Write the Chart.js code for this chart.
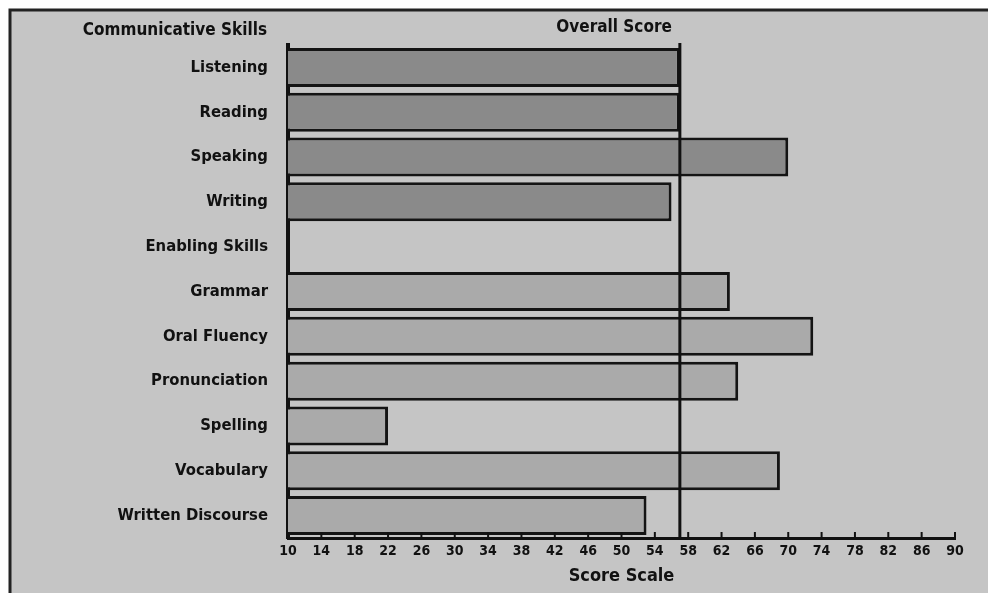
<!DOCTYPE html>
<html>
<head>
<meta charset="utf-8">
<script src="https://cdn.jsdelivr.net/npm/chart.js@4"></script>
<style>
  html, body { margin: 0; padding: 0; background: #ffffff; }
  #wrap { width: 988px; height: 593px; position: relative; }
</style>
</head>
<body>
<div id="wrap"><canvas id="scoreChart" width="988" height="593"></canvas></div>
<script>
// skills, in the order of the report
const skills = ['Listening', 'Reading', 'Speaking', 'Writing', 'Enabling Skills',
                'Grammar', 'Oral Fluency', 'Pronunciation', 'Spelling', 'Vocabulary', 'Written Discourse'];
const communicativeScores = [57, 57, 70, 56, null, null, null, null, null, null, null];
const enablingScores      = [null, null, null, null, null, 63, 73, 64, 22, 69, 53];
const overallScore = 57;
const scaleTicks = [10, 14, 18, 22, 26, 30, 34, 38, 42, 46, 50, 54, 58, 62, 66, 70, 74, 78, 82, 86, 90];

const FONT = '"DejaVu Sans Condensed", "DejaVu Sans", sans-serif';

// frame, header texts, overall line and the little axis ticks
const reportDecor = {
  id: 'reportDecor',
  beforeDraw(chart) {
    const c = chart.ctx;
    c.save();
    c.fillStyle = '#c5c5c5';
    c.fillRect(10, 10, chart.width - 10, chart.height - 10);
    c.strokeStyle = '#222';
    c.lineWidth = 3;
    c.beginPath();
    c.moveTo(10, chart.height);
    c.lineTo(10, 10);
    c.lineTo(chart.width, 10);
    c.stroke();
    c.restore();
  },
  afterDatasetsDraw(chart) {
    const c = chart.ctx;
    const x = chart.scales.x;
    const area = chart.chartArea;
    const lx = x.getPixelForValue(overallScore);
    c.save();
    c.strokeStyle = '#111';
    c.lineWidth = 3;
    c.beginPath();
    c.moveTo(lx, area.top - 2);
    c.lineTo(lx, area.bottom);
    c.stroke();
    // tick marks standing on the axis
    c.lineWidth = 2;
    scaleTicks.forEach(v => {
      const tx = x.getPixelForValue(v);
      c.beginPath();
      c.moveTo(tx, area.bottom);
      c.lineTo(tx, area.bottom - 6);
      c.stroke();
    });
    c.fillStyle = '#111';
    c.font = 'bold 17px ' + FONT;
    c.textBaseline = 'middle';
    c.textAlign = 'right';
    c.fillText('Communicative Skills', 267, 31);
    c.fillText('Overall Score', lx - 8, 28);
    c.restore();
  }
};

new Chart(document.getElementById('scoreChart'), {
  type: 'bar',
  data: {
    labels: skills,
    datasets: [{
      label: 'Communicative Skills',
      data: communicativeScores,
      backgroundColor: '#8a8a8a',
      borderColor: '#141414',
      borderWidth: 3,
      borderSkipped: false
    }, {
      label: 'Enabling Skills',
      data: enablingScores,
      backgroundColor: '#aaaaaa',
      borderColor: '#141414',
      borderWidth: 3,
      borderSkipped: false
    }]
  },
  options: {
    indexAxis: 'y',
    responsive: false,
    animation: false,
    layout: { padding: { top: 45, right: 33, left: 0, bottom: 6 } },
    datasets: { bar: { grouped: false, categoryPercentage: 1, barPercentage: 0.87 } },
    plugins: { legend: { display: false }, tooltip: { enabled: false } },
    scales: {
      x: {
        min: 10,
        max: 90,
        afterBuildTicks(scale) { scale.ticks = scaleTicks.map(v => ({ value: v })); },
        afterFit(scale) { scale.height = 49; },
        grid: { display: false, drawTicks: false },
        border: { display: true, color: '#111', width: 3 },
        ticks: { color: '#111', padding: 5, maxRotation: 0, autoSkip: false,
                 font: { family: FONT, size: 14, weight: 'bold' } },
        title: { display: true, text: 'Score Scale', color: '#111', padding: { top: 0, bottom: 0 },
                 font: { family: FONT, size: 18, weight: 'bold' } }
      },
      y: {
        afterFit(scale) { scale.width = 288; },
        grid: { display: false, drawTicks: false },
        border: { display: true, color: '#111', width: 4 },
        ticks: { color: '#111', padding: 20, autoSkip: false,
                 font: { family: FONT, size: 16.5, weight: 'bold' } }
      }
    }
  },
  plugins: [reportDecor]
});
</script>
</body>
</html>
